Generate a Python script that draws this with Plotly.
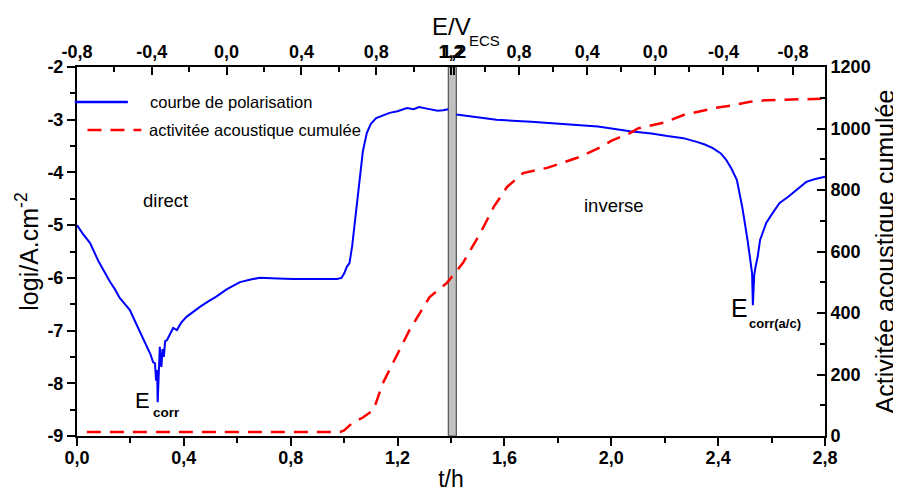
import plotly.graph_objects as go

# Polarisation curve (log i vs t)
t_pol = [0.0, 0.02, 0.049, 0.08, 0.124, 0.14, 0.16, 0.18, 0.198, 0.215, 0.236, 0.25, 0.266, 0.275, 0.285,
         0.292, 0.296, 0.300, 0.302, 0.305, 0.308, 0.31, 0.313, 0.316, 0.32, 0.325, 0.33, 0.337, 0.35, 0.36,
         0.374, 0.39, 0.41, 0.43, 0.46, 0.49, 0.52, 0.56, 0.61, 0.65, 0.685, 0.75, 0.81, 0.9, 0.973, 0.99,
         1.0, 1.01, 1.02, 1.03, 1.04, 1.05, 1.06, 1.07, 1.085, 1.1, 1.12, 1.17, 1.2, 1.235, 1.26, 1.28, 1.31,
         1.35, 1.37, 1.385, 1.39]
logi_pol = [-5.0, -5.15, -5.34, -5.68, -6.08, -6.2, -6.38, -6.5, -6.61, -6.8, -7.03, -7.2, -7.37, -7.45, -7.6,
            -7.62, -7.95, -7.75, -8.36, -7.85, -7.7, -7.31, -7.6, -7.69, -7.35, -7.5, -7.2, -7.18, -7.05, -6.95,
            -6.99, -6.85, -6.74, -6.66, -6.55, -6.45, -6.36, -6.22, -6.08, -6.03, -6.0, -6.01, -6.02, -6.02, -6.02, -6.0,
            -5.92, -5.79, -5.72, -5.4, -4.96, -4.45, -4.01, -3.6, -3.25, -3.08, -2.97, -2.87, -2.84, -2.78, -2.8, -2.76, -2.79,
            -2.83, -2.82, -2.8, -2.8]
t_rev = [1.42, 1.5, 1.57, 1.7, 1.82, 1.95, 2.07, 2.15, 2.21, 2.27, 2.32, 2.35, 2.38, 2.41, 2.43, 2.45, 2.47,
         2.49, 2.51, 2.52, 2.527, 2.53, 2.535, 2.54, 2.548, 2.557, 2.57, 2.58, 2.6, 2.63, 2.66, 2.68, 2.71,
         2.73, 2.76, 2.79, 2.8]
logi_rev = [-2.9, -2.95, -3.0, -3.04, -3.08, -3.13, -3.22, -3.26, -3.31, -3.35, -3.42, -3.47, -3.54, -3.64, -3.76, -3.93, -4.14,
            -4.65, -5.28, -5.6, -5.91, -6.52, -5.95, -5.79, -5.6, -5.28, -5.1, -4.96, -4.8, -4.58, -4.47, -4.39, -4.27,
            -4.18, -4.13, -4.09, -4.08]

# Cumulative acoustic activity
t_ae = [0.037, 0.3, 0.6, 0.9, 0.985, 1.0, 1.03, 1.07, 1.11, 1.145, 1.2, 1.245, 1.32, 1.385, 1.445, 1.51,
        1.56, 1.61, 1.67, 1.76, 1.88, 1.95, 2.0, 2.07, 2.1, 2.15, 2.2, 2.27, 2.33, 2.39, 2.45, 2.52, 2.58, 2.64, 2.72, 2.8]
ae = [13, 13, 13, 13, 13, 18, 42, 60, 85, 172, 270, 345, 452, 498, 563, 660,
      745, 810, 855, 872, 907, 935, 960, 985, 1000, 1010, 1020, 1044, 1055, 1067, 1075, 1087, 1092, 1093, 1095, 1097]

# Top axis (potential) ticks
e_tick_t = [0.0, 0.28, 0.56, 0.84, 1.12, 1.40, 1.41, 1.655, 1.91, 2.165, 2.42, 2.68]
e_tick_text = ["-0,8", "-0,4", "0,0", "0,4", "0,8", "1,2", "1,2", "0,8", "0,4", "0,0", "-0,4", "-0,8"]
e_minor_t = [0.14, 0.42, 0.70, 0.98, 1.26, 1.527, 1.783, 2.037, 2.292, 2.55]

x_ticks = [0.0, 0.4, 0.8, 1.2, 1.6, 2.0, 2.4, 2.8]
x_ticktext = ["0,0", "0,4", "0,8", "1,2", "1,6", "2,0", "2,4", "2,8"]
y_ticks = [-9, -8, -7, -6, -5, -4, -3, -2]
y_ticktext = ["-9", "-8", "-7", "-6", "-5", "-4", "-3", "-2"]
y2_ticks = [0, 200, 400, 600, 800, 1000, 1200]
y2_ticktext = ["0", "200", "400", "600", "800", "1000", "1200"]

FONT = "Liberation Sans, Arial, sans-serif"
tickfont = dict(family=FONT, size=18, color="black", weight=700)


def bold(lst):
    return ["<b>" + s + "</b>" for s in lst]


fig = go.Figure()
fig.add_trace(go.Scatter(x=t_pol, y=logi_pol, mode="lines", line=dict(color="#0000ff", width=2),
                         name="courbe de polarisation", showlegend=False))
fig.add_trace(go.Scatter(x=t_rev, y=logi_rev, mode="lines", line=dict(color="#0000ff", width=2),
                         showlegend=False))
fig.add_trace(go.Scatter(x=t_ae, y=ae, mode="lines", yaxis="y2",
                         line=dict(color="#ff0000", width=2.5, dash="14px,9px"),
                         name="activitée acoustique cumulée", showlegend=False))
fig.add_trace(go.Scatter(x=[0, 2.8], y=[-9, -9], xaxis="x2", mode="lines",
                         line=dict(width=0), hoverinfo="skip", showlegend=False, opacity=0))

# gray bar at the apex
fig.add_shape(type="rect", x0=1.39, x1=1.42, y0=-9, y1=-2, xref="x", yref="y",
              fillcolor="#c0c0c0", line=dict(color="#555555", width=1.2), layer="below")

# legend drawn manually
fig.add_shape(type="line", xref="paper", yref="paper", x0=-0.003, x1=0.068, y0=0.905, y1=0.905,
              line=dict(color="#0000ff", width=2.5))
fig.add_shape(type="line", xref="paper", yref="paper", x0=0.014, x1=0.086, y0=0.829, y1=0.829,
              line=dict(color="#ff0000", width=2.5, dash="14px,9px"))


def txt(x, y, text, size, xref="paper", yref="paper", xanchor="center", yanchor="middle", xshift=0, yshift=0):
    fig.add_annotation(x=x, y=y, xref=xref, yref=yref, text=text, showarrow=False,
                       xanchor=xanchor, yanchor=yanchor, xshift=xshift, yshift=yshift,
                       font=dict(family=FONT, size=size, color="black"))


txt(0.095, 0.905, "courbe de polarisation", 16.5, xanchor="left")
txt(0.094, 0.829, "activitée acoustique cumulée", 16.5, xanchor="left")
txt(0.33, -4.53, "direct", 18.5, xref="x", yref="y")
txt(2.01, -4.63, "inverse", 18.5, xref="x", yref="y")
# E_corr
txt(0.247, -8.32, "E", 22, xref="x", yref="y")
txt(0.278, -8.56, "<b>corr</b>", 13.5, xref="x", yref="y", xanchor="left")
# E_corr(a/c)
txt(2.48, -6.57, "E", 25, xref="x", yref="y")
txt(2.508, -6.86, "<b>corr(a/c)</b>", 13, xref="x", yref="y", xanchor="left")
# top axis title
txt(0.5, 1.0, "E/V", 24, yanchor="bottom", yshift=25)
txt(0.522, 1.0, "ECS", 15, xanchor="left", yanchor="bottom", yshift=16)

axis_common = dict(showline=True, linecolor="black", linewidth=2, tickcolor="black",
                   tickwidth=2, ticklen=8, showgrid=False, zeroline=False, tickfont=tickfont,
                   automargin=False, tickangle=0)
minor_out = dict(ticks="outside", ticklen=5, tickwidth=2, tickcolor="black")
minor_in = dict(ticks="inside", ticklen=5, tickwidth=2, tickcolor="black")

# page body has an 8px margin: the figure is shifted by 8px right and down
fig.update_layout(
    width=893, height=486,
    margin=dict(l=69, r=76, t=59, b=58),
    paper_bgcolor="white", plot_bgcolor="white",
    xaxis=dict(range=[0, 2.8], tickvals=x_ticks, ticktext=bold(x_ticktext), ticks="outside",
               ticklabelstandoff=-4,
               minor=dict(dtick=0.2, tick0=0, **minor_out),
               title=dict(text="t/h", font=dict(family=FONT, size=23, color="black"), standoff=4),
               **axis_common),
    xaxis2=dict(range=[0, 2.8], overlaying="x", side="top", tickvals=e_tick_t, ticktext=bold(e_tick_text),
                ticks="inside",
                minor=dict(tickvals=e_minor_t, **minor_in),
                **axis_common),
    yaxis=dict(range=[-9, -2], tickvals=y_ticks, ticktext=bold(y_ticktext), ticks="outside",
               minor=dict(dtick=0.5, tick0=-9, **minor_out),
               title=dict(text="logi/A.cm<sup>-2</sup>", font=dict(family=FONT, size=25, color="black"), standoff=2),
               **axis_common),
    yaxis2=dict(range=[0, 1200], overlaying="y", side="right", tickvals=y2_ticks, ticktext=bold(y2_ticktext),
                ticks="inside",
                minor=dict(dtick=100, tick0=0, **minor_in),
                title=dict(text="Activitée acoustique cumulée", font=dict(family=FONT, size=25, color="black"), standoff=2),
                **axis_common),
)

fig.write_html("out.html")
